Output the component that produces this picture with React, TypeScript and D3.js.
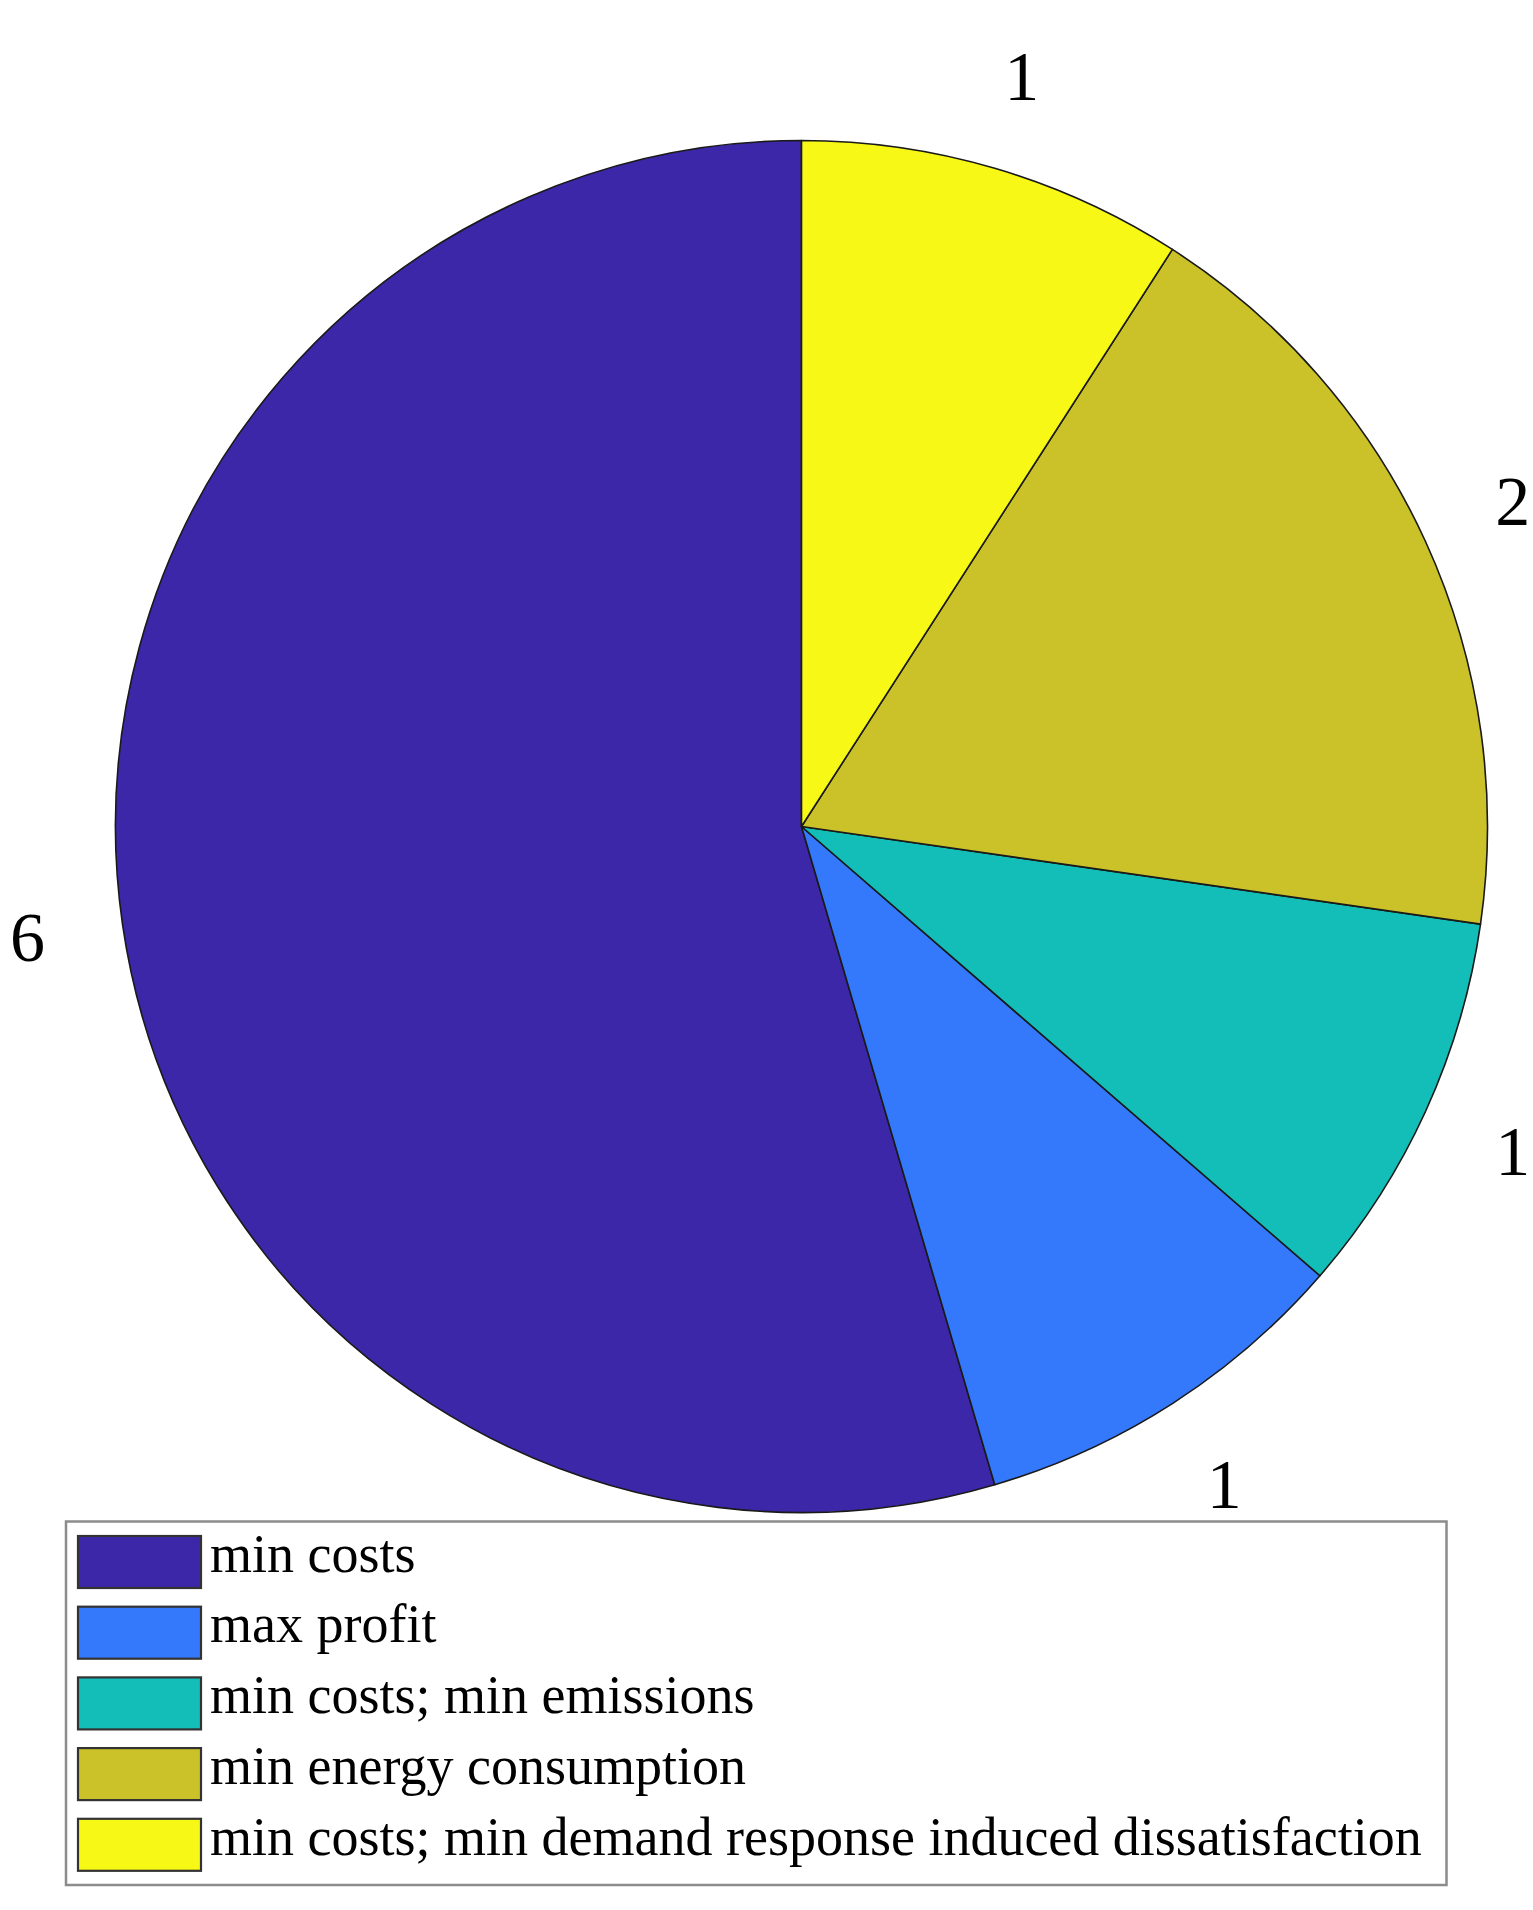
import React, { useRef, useEffect } from 'react';
import * as d3 from 'd3';

// chart data (order as drawn, counter-clockwise from 12 o'clock)
const categories = [
  'min costs',
  'max profit',
  'min costs; min emissions',
  'min energy consumption',
  'min costs; min demand response induced dissatisfaction',
];
const counts = [6, 1, 1, 2, 1];
const colors = ['#3C27A8', '#3479FC', '#14BEB8', '#CBC229', '#F8F816'];

const W = 1533;
const H = 1910;

const App = () => {
  const svgRef = useRef<SVGSVGElement>(null);

  useEffect(() => {
    const svg = d3.select(svgRef.current);
    svg.selectAll('*').remove();

    const cx = 801.5;
    const cy = 826.5;
    const radius = 686;
    const font = '"Liberation Serif", "Times New Roman", serif';

    const data = categories.map((name, i) => ({ name, value: counts[i], color: colors[i] }));

    // counter-clockwise from the top, like MATLAB's pie
    const pie = d3.pie<any>()
      .sort(null)
      .value(d => d.value)
      .startAngle(2 * Math.PI)
      .endAngle(0);

    const arcs = pie(data);
    const arc = d3.arc<any>().innerRadius(0).outerRadius(radius);
    const labelArc = d3.arc<any>().innerRadius(radius * 1.14).outerRadius(radius * 1.14);

    const g = svg.append('g').attr('transform', `translate(${cx},${cy})`);

    g.selectAll('path.slice')
      .data(arcs)
      .enter()
      .append('path')
      .attr('class', 'slice')
      .attr('d', arc)
      .attr('fill', d => d.data.color)
      .attr('stroke', '#1a1a1a')
      .attr('stroke-width', 1.6)
      .attr('stroke-linejoin', 'round');

    g.selectAll('text.lbl')
      .data(arcs)
      .enter()
      .append('text')
      .attr('class', 'lbl')
      .attr('x', d => labelArc.centroid(d)[0])
      .attr('y', d => labelArc.centroid(d)[1])
      .attr('text-anchor', 'middle')
      .attr('dominant-baseline', 'central')
      .style('font-family', font)
      .style('font-size', '70px')
      .attr('fill', '#000')
      .text(d => String(d.data.value));

    // legend
    const legX = 66;
    const legY = 1521.5;
    const legW = 1380.5;
    const legH = 363.5;
    const rowTop = 1536;
    const rowH = 70.7;

    const legend = svg.append('g');
    legend.append('rect')
      .attr('x', legX)
      .attr('y', legY)
      .attr('width', legW)
      .attr('height', legH)
      .attr('fill', '#fff')
      .attr('stroke', '#8c8c8c')
      .attr('stroke-width', 2.5);

    const rowScale = d3.scaleBand<number>()
      .domain(d3.range(data.length))
      .range([rowTop, rowTop + rowH * data.length]);

    const rows = legend.selectAll('g.row')
      .data(data)
      .enter()
      .append('g')
      .attr('class', 'row')
      .attr('transform', (d, i) => `translate(0,${rowScale(i)})`);

    rows.append('rect')
      .attr('x', 78)
      .attr('y', 0)
      .attr('width', 123)
      .attr('height', 52)
      .attr('fill', d => d.color)
      .attr('stroke', '#333')
      .attr('stroke-width', 2.2);

    rows.append('text')
      .attr('x', 210)
      .attr('y', 35.7)
      .style('font-family', font)
      .style('font-size', '54px')
      .attr('fill', '#000')
      .text(d => d.name);
  }, []);

  return (
    <div>
      <svg
        ref={svgRef}
        width={W}
        height={H}
        style={{ position: 'absolute', left: 0, top: 0, background: '#fff' }}
      />
    </div>
  );
};

export default App;
